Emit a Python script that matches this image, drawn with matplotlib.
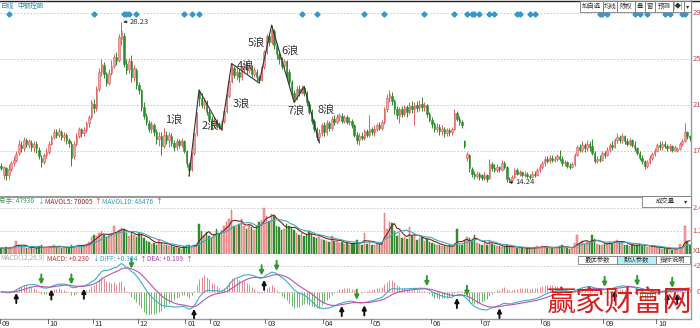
import numpy as np
import pandas as pd
import matplotlib
matplotlib.use("Agg")
import matplotlib.pyplot as plt
import matplotlib.transforms as mtransforms
from matplotlib.patches import Rectangle
from matplotlib.lines import Line2D

plt.rcParams['font.family'] = ['Noto Sans CJK SC', 'DejaVu Sans']

# ---------------- daily bars (open / high / low / close) ----------------
opens = [
    15.7, 14.9, 15.5, 14.9, 15.4, 15.9, 16.2, 16.8, 17.5, 17.2,
    17.9, 17.5, 17.7, 17.3, 17.6, 17.1, 16.4, 16.0, 16.6, 16.9,
    17.6, 18.2, 18.6, 18.4, 18.6, 18.2, 18.4, 17.9, 17.6, 16.5,
    17.6, 18.3, 18.9, 18.5, 18.8, 19.4, 19.9, 21.1, 20.7, 22.4,
    23.9, 24.5, 23.7, 22.9, 23.8, 24.4, 25.2, 24.9, 26.7, 27.0,
    24.6, 24.1, 24.8, 23.4, 24.0, 22.7, 22.3, 20.8, 20.0, 19.4,
    18.9, 19.2, 18.6, 18.0, 18.3, 17.4, 18.4, 17.9, 18.3, 17.7,
    17.3, 17.8, 17.5, 17.8, 17.0, 15.8, 15.4, 16.8, 18.5, 22.1,
    21.6, 21.0, 21.2, 20.4, 19.8, 19.2, 19.6, 19.3, 19.1, 19.6,
    20.5, 21.8, 23.1, 24.2, 23.6, 23.9, 23.4, 24.1, 24.5, 24.0,
    24.3, 23.7, 23.9, 23.4, 23.2, 24.3, 25.6, 27.0, 26.5, 27.4,
    26.2, 25.4, 25.0, 24.4, 24.8, 23.9, 23.0, 22.0, 21.6, 22.4,
    22.0, 22.5, 22.0, 21.1, 20.4, 19.6, 18.9, 18.2, 18.5, 19.2,
    18.6, 19.4, 19.0, 19.8, 19.5, 19.9, 20.0, 19.6, 19.9, 19.5,
    19.6, 19.2, 18.4, 17.9, 18.3, 18.1, 18.7, 18.4, 18.9, 18.6,
    18.9, 19.2, 19.0, 19.5, 20.6, 21.6, 21.8, 21.3, 20.6, 20.0,
    20.6, 20.2, 20.8, 20.4, 20.9, 20.6, 21.0, 20.7, 21.1, 20.8,
    21.0, 20.2, 19.7, 19.3, 18.9, 19.1, 18.7, 18.9, 18.5, 18.8,
    18.6, 18.9, 20.3, 19.8, 19.5, 17.8, 16.4, 16.6, 15.4, 15.0,
    14.8, 15.0, 14.9, 14.6, 14.9, 14.6, 15.8, 15.5, 15.3, 15.6,
    15.3, 15.9, 15.6, 14.5, 14.4, 14.7, 15.3, 15.0, 15.1, 14.9,
    15.0, 14.8, 14.7, 15.0, 14.9, 15.3, 15.6, 15.9, 16.3, 16.1,
    16.4, 16.2, 16.3, 16.5, 16.3, 15.9, 16.0, 15.7, 15.6, 15.8,
    16.6, 17.3, 17.1, 17.5, 17.2, 17.6, 17.4, 16.8, 16.1, 16.3,
    16.2, 16.8, 16.6, 17.1, 17.5, 17.3, 17.9, 18.2, 17.9, 18.3,
    17.8, 17.6, 17.9, 17.5, 17.2, 16.8, 16.4, 16.1, 15.7, 16.0,
    16.4, 16.7, 17.0, 17.5, 17.3, 17.6, 17.4, 17.2, 17.4, 17.1,
    16.95, 17.15, 17.55, 17.85, 18.65, 18.25,
]
highs = [
    15.9, 15.7, 15.6, 15.8, 16.1, 16.5, 17.0, 17.9, 17.8, 18.2,
    18.1, 18.0, 17.9, 17.8, 17.8, 17.3, 16.6, 16.8, 17.2, 17.8,
    18.4, 18.9, 18.9, 19.0, 18.8, 18.6, 18.5, 18.1, 17.8, 17.8,
    18.5, 19.1, 19.0, 19.1, 19.6, 20.1, 21.4, 21.5, 22.6, 24.2,
    25.0, 24.7, 23.9, 24.1, 24.9, 25.4, 25.6, 27.2, 28.23, 27.3,
    25.0, 25.1, 25.3, 24.5, 24.2, 23.0, 22.4, 21.2, 20.3, 19.7,
    19.6, 19.4, 18.9, 18.6, 18.6, 19.0, 18.7, 18.6, 18.5, 17.9,
    18.1, 18.0, 18.1, 17.9, 17.1, 16.0, 16.9, 18.5, 20.4, 22.3,
    22.0, 21.6, 21.4, 20.6, 20.0, 19.9, 19.8, 19.5, 19.8, 20.7,
    22.0, 23.3, 24.6, 24.4, 24.2, 24.1, 24.4, 24.7, 24.7, 24.7,
    24.5, 24.3, 24.1, 23.6, 24.5, 25.8, 27.2, 27.3, 27.95, 27.6,
    26.4, 25.6, 25.2, 25.0, 24.9, 24.1, 23.2, 22.3, 22.6, 22.7,
    22.7, 22.6, 22.2, 21.3, 20.6, 19.8, 19.1, 18.9, 19.4, 19.5,
    19.7, 19.6, 20.0, 20.1, 20.2, 20.3, 20.3, 20.1, 20.1, 19.9,
    19.8, 19.3, 18.6, 18.5, 18.6, 18.9, 18.9, 20.1, 19.1, 19.2,
    19.4, 19.5, 19.7, 20.8, 21.9, 22.3, 22.1, 21.5, 20.9, 20.8,
    20.9, 21.0, 21.0, 21.2, 21.3, 21.2, 21.3, 21.4, 21.7, 21.2,
    21.1, 20.4, 19.9, 19.5, 19.4, 19.3, 19.2, 19.1, 19.0, 19.0,
    19.1, 20.6, 20.5, 20.0, 19.7, 17.9, 16.9, 16.7, 15.6, 15.2,
    15.2, 15.1, 15.0, 15.1, 15.0, 16.3, 16.0, 15.8, 15.8, 15.7,
    16.2, 16.1, 15.7, 14.7, 14.9, 15.5, 15.5, 15.3, 15.2, 15.2,
    15.1, 15.0, 15.2, 15.2, 15.5, 15.8, 16.1, 16.5, 16.5, 16.6,
    16.6, 16.5, 16.7, 17.1, 16.5, 16.2, 16.1, 15.9, 16.0, 16.8,
    17.5, 17.6, 17.8, 17.7, 17.9, 17.8, 18.0, 17.0, 16.5, 16.6,
    17.0, 17.0, 17.3, 17.7, 17.8, 18.1, 18.5, 18.4, 18.5, 18.4,
    18.1, 18.1, 18.0, 17.8, 17.3, 17.0, 16.6, 16.2, 16.2, 16.6,
    16.9, 17.2, 17.7, 17.8, 17.8, 17.8, 17.6, 17.6, 17.5, 17.5,
    17.35, 17.75, 18.05, 19.45, 18.75, 18.35,
]
lows = [
    15.3, 14.5, 14.4, 14.5, 15.2, 15.7, 16.0, 16.6, 16.9, 17.0,
    17.3, 17.2, 17.0, 16.9, 16.8, 16.3, 15.6, 15.8, 16.4, 16.7,
    17.5, 18.0, 18.1, 18.2, 17.9, 17.8, 17.6, 17.3, 15.7, 16.3,
    17.4, 18.1, 18.2, 18.3, 18.6, 19.1, 19.8, 20.3, 20.5, 22.2,
    23.5, 23.3, 22.6, 22.7, 23.6, 24.2, 24.5, 24.7, 26.2, 24.3,
    23.7, 23.8, 23.0, 23.1, 22.4, 21.9, 20.5, 19.8, 19.2, 18.6,
    18.5, 18.3, 17.6, 17.4, 16.6, 17.2, 17.6, 17.3, 17.4, 17.0,
    17.1, 17.2, 17.3, 16.8, 15.6, 14.8, 15.2, 16.6, 18.3, 20.9,
    20.7, 20.6, 20.1, 19.5, 18.9, 19.0, 19.0, 18.9, 18.8, 19.4,
    20.3, 21.6, 22.9, 23.3, 23.2, 23.0, 23.2, 23.8, 23.7, 23.8,
    23.4, 23.4, 23.1, 22.9, 23.1, 24.1, 25.4, 26.1, 26.3, 25.9,
    25.0, 24.6, 24.1, 24.0, 23.3, 22.7, 21.8, 21.2, 21.4, 21.8,
    21.9, 21.8, 20.9, 20.2, 19.3, 18.6, 17.9, 17.7, 18.3, 18.3,
    18.4, 18.7, 18.8, 19.2, 19.3, 19.6, 19.4, 19.4, 19.3, 19.2,
    19.0, 18.2, 17.6, 17.5, 17.9, 17.9, 18.2, 18.2, 18.4, 18.3,
    18.7, 18.8, 18.8, 19.3, 20.4, 21.2, 21.0, 20.2, 19.8, 19.4,
    19.9, 20.0, 19.9, 20.2, 20.3, 19.2, 20.4, 20.5, 20.5, 20.5,
    19.9, 19.5, 19.0, 18.6, 18.6, 18.4, 18.4, 18.2, 18.3, 18.3,
    18.4, 18.8, 19.6, 19.2, 19.0, 17.2, 16.1, 15.1, 14.7, 14.5,
    14.6, 14.4, 14.4, 14.4, 14.3, 14.5, 15.2, 15.1, 15.1, 15.1,
    15.2, 15.4, 14.24, 14.3, 14.3, 14.6, 14.9, 14.8, 14.7, 14.7,
    14.6, 14.5, 14.6, 14.7, 14.8, 15.1, 15.4, 15.7, 15.9, 15.9,
    16.0, 16.0, 16.1, 16.1, 15.7, 15.7, 15.5, 15.4, 15.5, 15.7,
    16.5, 16.9, 16.9, 16.9, 17.0, 17.0, 16.6, 15.9, 15.9, 16.0,
    16.1, 16.4, 16.5, 16.9, 17.1, 17.2, 17.7, 17.7, 17.7, 17.6,
    17.4, 17.4, 17.3, 17.0, 16.6, 16.2, 15.8, 15.4, 15.5, 15.8,
    16.2, 16.5, 16.9, 17.1, 17.1, 17.2, 17.0, 17.0, 16.9, 17.0,
    16.85, 17.05, 17.45, 17.75, 18.05, 17.85,
]
closes = [
    15.5, 15.6, 14.9, 15.4, 15.9, 16.2, 16.7, 17.6, 17.2, 17.9,
    17.6, 17.8, 17.3, 17.6, 17.2, 16.5, 16.0, 16.6, 16.9, 17.6,
    18.2, 18.6, 18.4, 18.7, 18.2, 18.4, 17.9, 17.7, 16.4, 17.6,
    18.3, 18.9, 18.5, 18.8, 19.4, 19.9, 21.2, 20.7, 22.4, 23.9,
    24.6, 23.7, 22.9, 23.8, 24.4, 25.2, 24.8, 26.9, 27.4, 24.6,
    24.0, 24.8, 23.4, 24.2, 22.7, 22.3, 20.8, 20.0, 19.5, 18.9,
    19.3, 18.6, 18.0, 18.3, 17.4, 18.4, 17.9, 18.4, 17.7, 17.3,
    17.8, 17.5, 17.9, 17.0, 15.9, 15.3, 16.8, 18.5, 20.3, 21.6,
    21.0, 21.3, 20.4, 19.8, 19.2, 19.6, 19.3, 19.1, 19.6, 20.5,
    21.8, 23.1, 24.2, 23.6, 23.9, 23.4, 24.1, 24.6, 24.0, 24.4,
    23.7, 24.0, 23.4, 23.2, 24.3, 25.6, 27.0, 26.5, 27.5, 26.2,
    25.4, 25.0, 24.4, 24.8, 23.6, 23.0, 22.2, 21.6, 22.4, 22.0,
    22.5, 22.0, 21.2, 20.4, 19.6, 18.9, 18.2, 18.5, 19.2, 18.6,
    19.4, 19.0, 19.8, 19.5, 19.9, 20.1, 19.6, 19.9, 19.5, 19.6,
    19.2, 18.4, 17.9, 18.3, 18.1, 18.7, 18.4, 18.9, 18.6, 18.9,
    19.2, 19.0, 19.5, 20.6, 21.6, 21.9, 21.3, 20.6, 20.1, 20.6,
    20.2, 20.8, 20.4, 20.9, 20.6, 21.0, 20.7, 21.1, 20.8, 21.0,
    20.2, 19.7, 19.3, 18.9, 19.1, 18.7, 18.9, 18.5, 18.8, 18.6,
    18.9, 20.3, 19.8, 19.5, 19.2, 17.4, 16.7, 15.5, 15.0, 14.8,
    15.0, 14.7, 14.6, 14.9, 14.5, 15.8, 15.5, 15.3, 15.6, 15.4,
    15.9, 15.6, 14.5, 14.4, 14.7, 15.3, 15.0, 15.1, 14.9, 15.0,
    14.8, 14.7, 15.0, 14.9, 15.3, 15.6, 15.9, 16.3, 16.1, 16.4,
    16.2, 16.3, 16.5, 16.3, 15.9, 16.0, 15.7, 15.6, 15.8, 16.6,
    17.3, 17.1, 17.5, 17.2, 17.6, 17.3, 16.8, 16.1, 16.3, 16.2,
    16.8, 16.6, 17.1, 17.5, 17.3, 17.9, 18.2, 17.9, 18.3, 17.8,
    17.6, 17.9, 17.5, 17.2, 16.8, 16.4, 16.1, 15.7, 16.0, 16.4,
    16.7, 17.0, 17.5, 17.3, 17.6, 17.4, 17.2, 17.4, 17.1, 17.3,
    17.15, 17.55, 17.85, 18.65, 18.25, 18.07,
]
volumes = [
    32000, 28000, 35000, 30000, 38000, 42000, 70000, 45000, 36000, 40000,
    33000, 30000, 35000, 28000, 31000, 40000, 46000, 30000, 33000, 38000,
    42000, 45000, 36000, 40000, 34000, 30000, 36000, 32000, 48000, 40000,
    45000, 50000, 42000, 46000, 55000, 62000, 90000, 100000, 95000, 110000,
    120000, 100000, 92000, 98000, 108000, 150000, 118000, 125000, 135000, 128000,
    110000, 95000, 115000, 100000, 88000, 110000, 105000, 85000, 70000, 62000,
    55000, 60000, 50000, 72000, 58000, 48000, 45000, 40000, 42000, 38000,
    35000, 30000, 28000, 40000, 45000, 48000, 38000, 45000, 52000, 160000,
    120000, 100000, 115000, 95000, 85000, 105000, 130000, 110000, 125000, 150000,
    170000, 185000, 230000, 150000, 140000, 160000, 185000, 145000, 130000, 155000,
    140000, 125000, 150000, 170000, 180000, 240000, 200000, 175000, 210000, 200000,
    150000, 140000, 125000, 130000, 160000, 150000, 135000, 125000, 110000, 100000,
    110000, 95000, 100000, 120000, 105000, 90000, 85000, 100000, 80000, 75000,
    70000, 65000, 95000, 70000, 68000, 60000, 62000, 55000, 58000, 50000,
    52000, 60000, 75000, 58000, 50000, 108000, 55000, 70000, 48000, 45000,
    50000, 55000, 60000, 215000, 130000, 170000, 165000, 120000, 95000, 110000,
    85000, 90000, 80000, 140000, 95000, 100000, 75000, 85000, 90000, 70000,
    80000, 65000, 60000, 55000, 50000, 45000, 42000, 40000, 38000, 45000,
    40000, 60000, 130000, 50000, 45000, 75000, 90000, 85000, 70000, 100000,
    60000, 55000, 48000, 65000, 50000, 75000, 55000, 45000, 40000, 42000,
    38000, 35000, 45000, 40000, 35000, 38000, 32000, 30000, 34000, 28000,
    30000, 32000, 28000, 35000, 40000, 38000, 42000, 36000, 34000, 30000,
    32000, 35000, 38000, 40000, 45000, 34000, 30000, 28000, 32000, 60000,
    100000, 60000, 70000, 55000, 65000, 60000, 100000, 80000, 55000, 45000,
    50000, 55000, 60000, 65000, 55000, 70000, 75000, 60000, 65000, 50000,
    45000, 40000, 50000, 45000, 48000, 55000, 42000, 45000, 38000, 35000,
    40000, 38000, 35000, 30000, 28000, 32000, 24000, 31000, 22735, 30000,
    27000, 52000, 35000, 145000, 70095, 47930,
]

# month axis: first bar of each month and its label
month_starts = [0, 19, 37, 55, 74, 84, 106, 129, 148, 172, 192, 216, 241, 262]
month_labels = ["09", "10", "11", "12", "01", "02", "03", "04", "05", "06",
                "07", "08", "09", "10"]

# wave count pivots (bar index), alternating low / high
wave_pivots = [75, 79, 88, 92, 103, 108, 117, 121, 127]
wave_names = ["1浪", "2浪", "3浪", "4浪", "5浪", "6浪", "7浪", "8浪"]

# information-mine markers and MACD signal bars
info_bars = [3, 37, 49, 50, 51, 54, 73, 76, 79, 120, 126, 145, 153, 169, 181,
             186, 188, 189, 191, 195, 197, 206, 207, 211, 213, 239, 240, 242,
             253, 255, 258, 265, 267, 272, 273]
buy_bars = [6, 20, 33, 77, 105, 136, 145, 182, 199, 245, 266, 270]
sell_bars = [16, 28, 52, 104, 110, 142, 170, 186, 241, 254, 268]

price_grid = [17, 21, 25, 29]
vol_grid = [120000, 240000]
vol_grid_labels = ["1.2", "2.4"]

# ---------------- derived series ----------------
o = np.array(opens); h = np.array(highs); l = np.array(lows); c = np.array(closes)
v = np.array(volumes, dtype=float)
n = len(c)
idx = np.arange(n)
up = c >= o

vs = pd.Series(v)
mavol5 = vs.rolling(5, min_periods=1).mean().values
mavol10 = vs.rolling(10, min_periods=1).mean().values

cs = pd.Series(c)
ema12 = cs.ewm(span=12, adjust=False).mean()
ema26 = cs.ewm(span=26, adjust=False).mean()
diff = (ema12 - ema26).values
dea = pd.Series(diff).ewm(span=9, adjust=False).mean().values
macd = 2 * (diff - dea)

# ---------------- figure layout (pixel based) ----------------
W, H = 700, 328
fig = plt.figure(figsize=(W / 100, H / 100), dpi=100)
fig.patch.set_facecolor("white")
renderer = fig.canvas.get_renderer()


def fx(px):
    return px / W


def fy(py):
    return 1 - py / H


RIGHT = 691
ax_p = fig.add_axes([0, fy(197), fx(RIGHT), 196 / H])
ax_v = fig.add_axes([0, fy(254), fx(RIGHT), 57 / H])
ax_m = fig.add_axes([0, fy(319), fx(RIGHT), 65 / H])
for ax in (ax_p, ax_v, ax_m):
    ax.set_xlim(-0.5, n - 0.5)
    ax.axis("off")

RED_FACE = "#f2a2a2"
RED_EDGE = "#e05a5a"
GREEN = "#2e8b2e"
AXIS_RED = "#c44848"
DASH = (0, (2, 2))


def right_label(ax, val, text, xo=1.002):
    ax.text(xo, val, text, transform=mtransforms.blended_transform_factory(
        ax.transAxes, ax.transData), ha="left", va="center",
        fontsize=5.5, color=AXIS_RED, clip_on=False)


# ---------------- price panel ----------------
ax_p.set_ylim(12.96, 30.05)
for g in price_grid:
    ax_p.axhline(g, color="#c4c4c4", lw=0.6, ls=DASH, zorder=0)
    right_label(ax_p, g, str(g))

lo = np.minimum(l, np.minimum(o, c))
hi = np.maximum(h, np.maximum(o, c))
ax_p.vlines(idx, lo, hi, colors=np.where(up, RED_EDGE, GREEN), lw=0.7, zorder=2)
body = np.maximum(np.abs(c - o), 0.05)
bottom = np.minimum(o, c)
ax_p.bar(idx[up], body[up], bottom=bottom[up], width=0.62, color=RED_FACE,
         edgecolor=RED_EDGE, lw=0.4, zorder=3)
ax_p.bar(idx[~up], body[~up], bottom=bottom[~up], width=0.62, color=GREEN,
         edgecolor=GREEN, lw=0.4, zorder=3)

# wave lines through the pivot lows/highs
wave_px = [l[i] if k % 2 == 0 else h[i] for k, i in enumerate(wave_pivots)]
ax_p.plot(wave_pivots, wave_px, color="#333333", lw=0.8, zorder=4)
label_offsets = [(-25, -30), (-11, 5), (10, -40), (-14, 17), (-15, -17),
                 (-4, 52), (-8, -24), (7, 33)]
for k, name in enumerate(wave_names):
    ax_p.annotate(name, xy=(wave_pivots[k + 1], wave_px[k + 1]),
                  xytext=label_offsets[k], textcoords="offset pixels",
                  ha="center", va="center", fontsize=8, color="#333333", zorder=5)

# highest / lowest price tags
imax = int(np.argmax(h)); imin = int(np.argmin(l))
for i, val in [(imax, h[imax]), (imin, l[imin])]:
    ax_p.annotate(f"{val:.2f}", xy=(i + 0.7, val), xytext=(7, 0),
                  textcoords="offset pixels", ha="left", va="center",
                  fontsize=5.5, color="#333333",
                  arrowprops=dict(arrowstyle="-|>", color="#333333", lw=0.6,
                                  mutation_scale=4, shrinkA=0, shrinkB=0))

# info markers along the top
trans_top = mtransforms.blended_transform_factory(ax_p.transData, ax_p.transAxes)
ax_p.plot(info_bars, [0.934] * len(info_bars), ls="none", marker="D",
          ms=2.6, color="#3399cc", transform=trans_top, zorder=5)

# ---------------- volume panel ----------------
ax_v.set_ylim(0, 3.0e5)
for g, lab in zip(vol_grid, vol_grid_labels):
    ax_v.axhline(g, color="#c4c4c4", lw=0.6, ls=DASH, zorder=0)
    right_label(ax_v, g, lab)
right_label(ax_v, 0.13e5, "X10万")
ax_v.bar(idx[up], v[up], width=0.62, color=RED_FACE, edgecolor=RED_EDGE, lw=0.3)
ax_v.bar(idx[~up], v[~up], width=0.62, color=GREEN, edgecolor=GREEN, lw=0.3)
ax_v.plot(idx, mavol5, color="#7a2020", lw=0.8)
ax_v.plot(idx, mavol10, color="#40a8bc", lw=0.8)

# ---------------- MACD panel ----------------
ax_m.set_ylim(-2.08, 2.92)
ax_m.axhline(2, color="#c8c8c8", lw=0.6, ls=DASH, zorder=0)
ax_m.axhline(0, color="#e8a0a0", lw=0.6, ls=DASH, zorder=0)
right_label(ax_m, 2, "+2")
right_label(ax_m, 0, "0", xo=1.008)
ax_m.vlines(idx, 0, macd, colors=np.where(macd >= 0, "#e48888", "#6cb86c"), lw=0.7)
ax_m.plot(idx, diff, color="#3ab0c8", lw=0.8, zorder=3)
ax_m.plot(idx, dea, color="#b456b4", lw=0.8, zorder=3)
for i in buy_bars:
    ax_m.annotate("", xy=(i, diff[i]), xytext=(0, -13), textcoords="offset pixels",
                  arrowprops=dict(arrowstyle="-|>", color="#111111", lw=1.4,
                                  mutation_scale=6, shrinkA=0, shrinkB=2), zorder=6)
for i in sell_bars:
    ax_m.annotate("", xy=(i, diff[i]), xytext=(0, 13), textcoords="offset pixels",
                  arrowprops=dict(arrowstyle="-|>", color="#2a9a2a", lw=1.4,
                                  mutation_scale=6, shrinkA=0, shrinkB=2), zorder=6)

# ---------------- frame lines and month axis ----------------
fig.add_artist(Line2D([0, 1], [fy(0.5), fy(0.5)], color="#222222", lw=1.0))
fig.add_artist(Line2D([0, fx(RIGHT)], [fy(197), fy(197)], color="#9a9a9a", lw=1.5))
fig.add_artist(Line2D([0, fx(RIGHT)], [fy(319), fy(319)], color="#9a9a9a", lw=1.0))
fig.add_artist(Line2D([fx(RIGHT), fx(RIGHT)], [fy(0), fy(319)], color="#9a9a9a", lw=1.0))
bar_px = RIGHT / n
for i, lab in zip(month_starts, month_labels):
    xp = i * bar_px
    fig.add_artist(Line2D([fx(xp), fx(xp)], [fy(319), fy(323)], color="#555555", lw=0.6))
    fig.text(fx(xp + 2), fy(324), lab, ha="left", va="center", fontsize=5.5,
             color="#333333")


# ---------------- header texts ----------------
def arrow(series):
    return "↑" if series[-1] >= series[-2] else "↓"


def arrow_color(series):
    return "#e03030" if series[-1] >= series[-2] else "#30a0d0"


def text_run(x0, y, pieces, fs=4.8):
    """Write coloured pieces one after another, each at least at its own start."""
    x = x0
    for start, txt, col in pieces:
        x = max(x, start)
        t = fig.text(fx(x), fy(y), txt, fontsize=fs, color=col, ha="left", va="center")
        x = t.get_window_extent(renderer).x1 + 1.5


text_run(1, 6, [(1, "日线", "#2a8aaa"), (17, "中钢控股", "#2a8aaa")])

text_run(-1, 201.5, [
    (-1, f"总手: {int(v[-1])}", "#3b9b5b"),
    (37, arrow(v), arrow_color(v)),
    (43, f"MAVOL5: {mavol5[-1]:.0f}", "#8b2a2a"),
    (89, arrow(mavol5), arrow_color(mavol5)),
    (97, f"MAVOL10: {mavol10[-1]:.0f}", "#3a9ab0"),
    (153, arrow(mavol10), arrow_color(mavol10)),
])

text_run(0, 259, [
    (0, "MACD(12,26,9)", "#aaaaaa"),
    (47, f"MACD: {macd[-1]:+.3f}", "#cc3030"),
    (92, arrow(macd), arrow_color(macd)),
    (98, f"DIFF: {diff[-1]:+.3f}", "#3aa0b8"),
    (137, arrow(diff), arrow_color(diff)),
    (145, f"DEA: {dea[-1]:+.3f}", "#a040a8"),
    (183, arrow(dea), arrow_color(dea)),
])


# ---------------- buttons ----------------
def button(x0, x1, y0, y1, label, bg="white", fs=4.6):
    fig.add_artist(Rectangle((fx(x0), fy(y1)), fx(x1) - fx(x0), (y1 - y0) / H,
                             transform=fig.transFigure, facecolor=bg,
                             edgecolor="#7a7a7a", lw=0.6, zorder=8))
    fig.text(fx((x0 + x1) / 2), fy((y0 + y1) / 2), label, fontsize=fs,
             color="#333333", ha="center", va="center", zorder=9)


top_buttons = [(580, 603, "加自选"), (603, 617, "均线"), (617, 635, "除权"),
               (635, 645, "叠"), (645, 655, "窗"), (655, 673, "预测"),
               (673, 684, "|◆|"), (684, 691, "▾")]
for x0, x1, lab in top_buttons:
    button(x0, x1, 0.5, 12, lab)

fig.add_artist(Rectangle((fx(642), fy(207)), fx(691) - fx(642), 11 / H,
                         transform=fig.transFigure, facecolor="white",
                         edgecolor="#7a7a7a", lw=0.6, zorder=8))
fig.text(fx(665), fy(201.5), "成交量", fontsize=4.6, color="#333333",
         ha="center", va="center", zorder=9)
fig.text(fx(686), fy(201.5), "▾", fontsize=4.6, color="#333333",
         ha="center", va="center", zorder=9)

button(578, 617, 255.5, 264, "最优参数")
button(617, 656, 255.5, 264, "默认参数", bg="#b4f0fa")
button(656, 690, 255.5, 264, "指标说明")

# ---------------- site mark ----------------
fig.text(fx(620), fy(303), "赢家财富网", fontsize=21, color="#d82020",
         ha="center", va="center", fontweight="light", zorder=10)

fig.savefig("out.png", dpi=100, facecolor="white")
